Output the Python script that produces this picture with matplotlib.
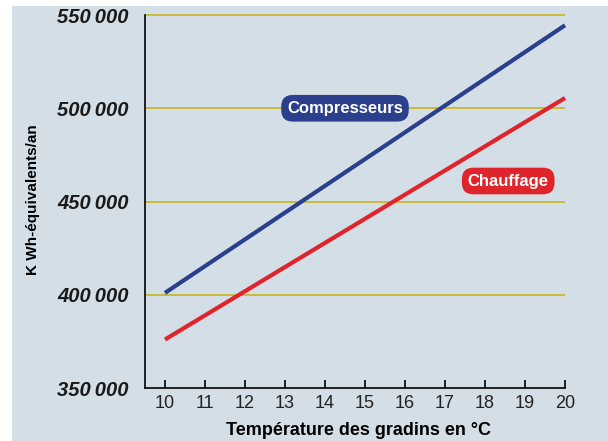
import matplotlib

matplotlib.use("Agg")
import matplotlib.pyplot as plt
from matplotlib.patches import Rectangle

# Données
temperatures = [10, 20]
compresseurs = [401000, 544500]
chauffage = [376000, 505500]
x_ticks = list(range(10, 21))
y_ticks = [350000, 400000, 450000, 500000, 550000]
y_tick_labels = ["350\u2009000", "400\u2009000", "450\u2009000", "500\u2009000", "550\u2009000"]

BLUE = "#2b3f8c"
RED = "#e0242c"
GRID = "#c9bb3a"
BG = "#d4dee7"

plt.rcParams["font.family"] = ["Liberation Sans", "DejaVu Sans"]

fig = plt.figure(figsize=(6.08, 4.41), dpi=100, facecolor="white")
fig.patches.append(Rectangle((12 / 608, 0), 1, 1 - 6 / 441, transform=fig.transFigure,
                             facecolor=BG, edgecolor="none", zorder=-10))

ax = fig.add_axes([145 / 608, 53 / 441, 428 / 608, 376.7 / 441])
ax.set_facecolor("none")
ax.set_xlim(9.5, 20.2)
ax.set_ylim(350000, 552000)

for v in y_ticks[1:]:
    ax.hlines(v, 9.5, 20, color=GRID, linewidth=1.4, zorder=1)

ax.plot(temperatures, compresseurs, color=BLUE, linewidth=3, solid_capstyle="butt", zorder=3)
ax.plot(temperatures, chauffage, color=RED, linewidth=3, solid_capstyle="butt", zorder=3)

ax.text(14.5, 500000, "Compresseurs", color="white", fontsize=12, fontweight="bold",
        ha="center", va="center", zorder=4,
        bbox=dict(boxstyle="round,pad=0.35,rounding_size=0.7", facecolor=BLUE, edgecolor="none"))
ax.text(18.58, 461000, "Chauffage", color="white", fontsize=12, fontweight="bold",
        ha="center", va="center", zorder=4,
        bbox=dict(boxstyle="round,pad=0.35,rounding_size=0.7", facecolor=RED, edgecolor="none"))

for side in ("top", "right"):
    ax.spines[side].set_visible(False)
ax.spines["left"].set_bounds(350000, 550000)
ax.spines["bottom"].set_bounds(9.5, 20)
ax.spines["left"].set_linewidth(1.2)
ax.spines["bottom"].set_linewidth(1.2)

ax.set_xticks(x_ticks)
ax.set_xticklabels([str(t) for t in x_ticks], fontsize=13, color="#222222")
ax.tick_params(axis="x", direction="in", length=6, width=1.2, pad=5)
ax.set_yticks(y_ticks)
ax.set_yticklabels(y_tick_labels, fontsize=14.5, fontweight="bold", fontstyle="italic",
                   color="#1a1a1a")
ax.tick_params(axis="y", length=0, pad=12)

ax.set_xlabel("Température des gradins en °C", fontsize=13, fontweight="bold", labelpad=7)
ax.set_ylabel("K Wh-équivalents/an", fontsize=11, fontweight="bold", labelpad=12)

fig.savefig("out.png", dpi=100, facecolor=fig.get_facecolor())
